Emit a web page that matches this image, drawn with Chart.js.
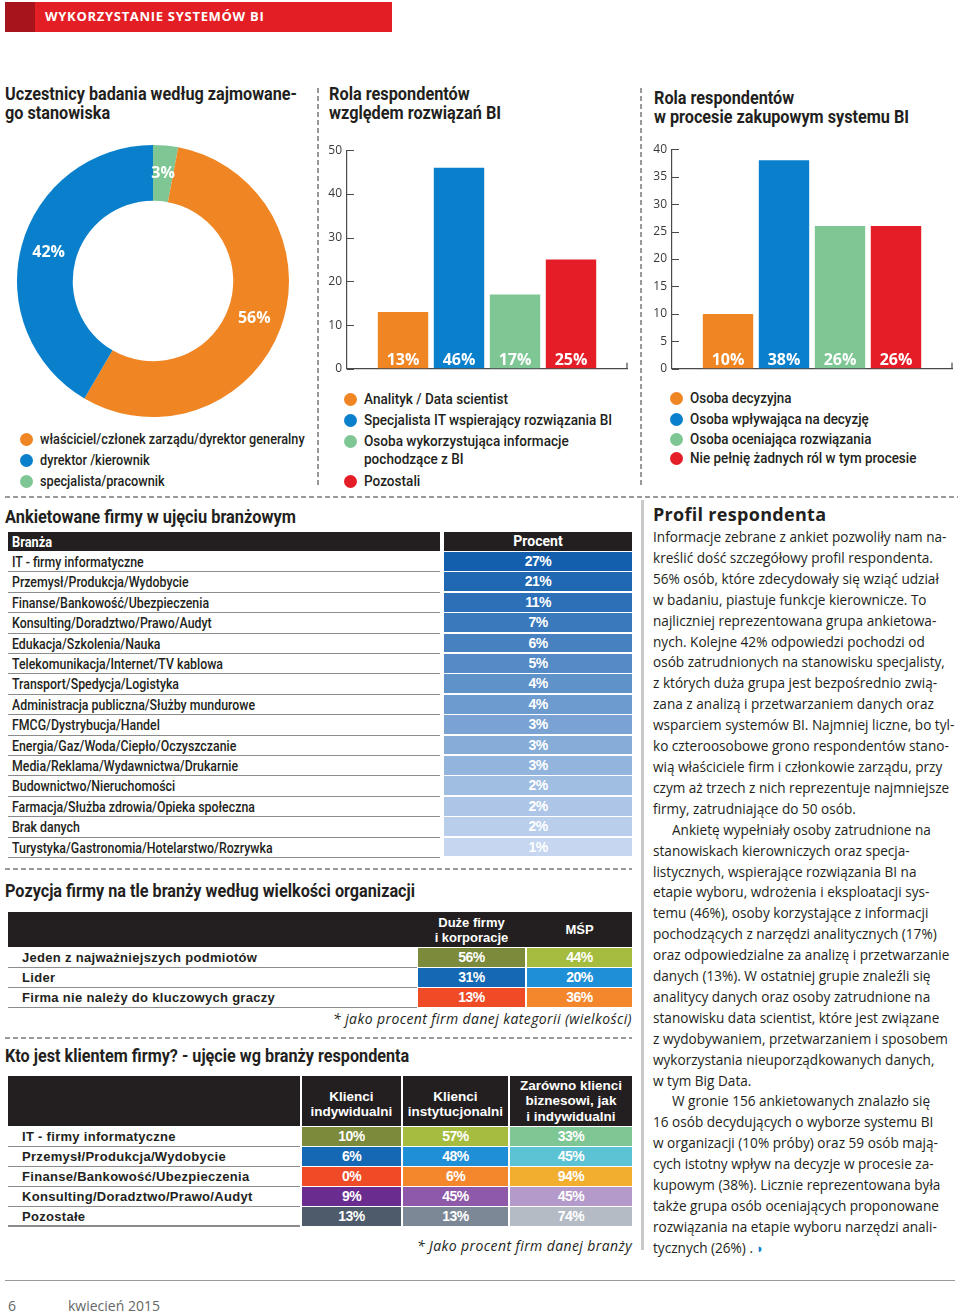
<!DOCTYPE html>
<html lang="pl">
<head>
<meta charset="utf-8">
<title>Wykorzystanie systemów BI</title>
<script src="https://cdn.jsdelivr.net/npm/chart.js@4/dist/chart.umd.min.js"></script>
<style>
  * { box-sizing: border-box; margin: 0; padding: 0; }
  body { width: 960px; height: 1313px; position: relative; overflow: hidden; background: #fff;
         font-family: 'Open Sans', sans-serif; color: #231f20; }
  .abs { position: absolute; }
  .cn { font-family: Roboto, sans-serif; display: inline-block; transform-origin: 0 50%; white-space: nowrap; }
  .h2 { font-weight: bold; font-size: 18px; line-height: 19px; white-space: pre; }
  .dash-h { position: absolute; height: 1.5px; background: repeating-linear-gradient(90deg, #9a9a9a 0 5px, transparent 5px 8px); }
  .dash-v { position: absolute; width: 1.5px; background: repeating-linear-gradient(180deg, #9a9a9a 0 5px, transparent 5px 8px); }
  .legend .cn { position: absolute; white-space: pre; font-size: 14px; line-height: 18.5px; font-weight: 500; }
  .dot { position: absolute; width: 13px; height: 13px; border-radius: 50%; }
  .body-text div { height: 20.91px; line-height: 20.91px; white-space: nowrap; font-size: 13.6px; }
  .arial { font-family: 'Liberation Sans', Arial, sans-serif; }
  canvas { position: absolute; }
</style>
</head>
<body>
<div class="abs" style="left:5px;top:2px;width:387px;height:30px;background:#e31e24;"></div>
<div class="abs" style="left:5px;top:2px;width:30px;height:30px;background:#a8141b;"></div>
<div class="abs" style="left:45px;top:7px;color:#fff;font-weight:bold;font-size:13px;letter-spacing:0.7px;">WYKORZYSTANIE SYSTEMÓW BI</div>

<div class="abs cn h2" data-w="292" style="left:5px;top:84px;">Uczestnicy badania według zajmowane-
go stanowiska</div>
<div class="abs cn h2" data-w="172" style="left:329px;top:84px;">Rola respondentów
względem rozwiązań BI</div>
<div class="abs cn h2" data-w="255" style="left:654px;top:88px;">Rola respondentów
w procesie zakupowym systemu BI</div>

<div class="dash-v" style="left:317px;top:88px;height:400px;"></div>
<div class="dash-v" style="left:640px;top:88px;height:400px;"></div>
<div class="dash-h" style="left:5px;top:496px;width:953px;"></div>
<div class="dash-h" style="left:5px;top:868px;width:627px;"></div>
<div class="dash-h" style="left:5px;top:1037px;width:627px;"></div>
<div class="abs" style="left:641px;top:500px;width:3px;height:750px;background:#c9c9c9;"></div>
<div class="abs" style="left:5px;top:1280px;width:950px;height:1px;background:#9a9a9a;"></div>
<div class="abs" style="left:8px;top:1296px;font-size:14px;color:#666;">6</div>
<div class="abs" style="left:68px;top:1296px;font-size:14px;color:#666;">kwiecień 2015</div>

<canvas id="donut" width="272" height="272" style="left:17px;top:145px;"></canvas>
<canvas id="barBi" width="312" height="243" style="left:320px;top:138px;"></canvas>
<canvas id="barZakup" width="312" height="244" style="left:645px;top:137px;"></canvas>

<div id="legend1" class="legend"></div>
<div id="legend2" class="legend"></div>
<div id="legend3" class="legend"></div>

<div class="abs cn h2" data-w="291" style="left:5px;top:507px;">Ankietowane firmy w ujęciu branżowym</div>
<div class="abs cn h2" data-w="410" style="left:5px;top:881px;">Pozycja firmy na tle branży według wielkości organizacji</div>
<div class="abs cn h2" data-w="404" style="left:5px;top:1046px;">Kto jest klientem firmy? - ujęcie wg branży respondenta</div>
<div class="abs" style="right:328px;top:1009px;font-style:italic;font-size:14px;letter-spacing:0.4px;white-space:nowrap;">* jako procent firm danej kategorii (wielkości)</div>
<div class="abs" style="right:328px;top:1236px;font-style:italic;font-size:14px;letter-spacing:0.4px;white-space:nowrap;">* Jako procent firm danej branży</div>

<div id="tables"></div>

<div class="abs" style="left:653px;top:502px;font-weight:bold;font-size:18px;letter-spacing:0.3px;">Profil respondenta</div>
<div id="profil" class="abs body-text" style="left:653px;top:527px;"></div>

<script>
const ORANGE = '#f08524';
const BLUE = '#0a80cc';
const GREEN = '#7ec794';
const RED = '#e41d27';

// Uczestnicy badania według zajmowanego stanowiska
const stanowiskoValues = [3, 56, 42];
const stanowiskoColors = [GREEN, ORANGE, BLUE];
const stanowiskoLegend = ['właściciel/członek zarządu/dyrektor generalny', 'dyrektor /kierownik', 'specjalista/pracownik'];
const stanowiskoLegendColors = [ORANGE, BLUE, GREEN];

// Rola respondentów względem rozwiązań BI
const rolaBiLabels = ['Analityk / Data scientist', 'Specjalista IT wspierający rozwiązania BI', 'Osoba wykorzystująca informacje\npochodzące z BI', 'Pozostali'];
const rolaBiValues = [13, 46, 17, 25];
const rolaBiTicks = [0, 10, 20, 30, 40, 50];

// Rola respondentów w procesie zakupowym
const rolaZakupLabels = ['Osoba decyzyjna', 'Osoba wpływająca na decyzję', 'Osoba oceniająca rozwiązania', 'Nie pełnię żadnych ról w tym procesie'];
const rolaZakupValues = [10, 38, 26, 26];
const rolaZakupTicks = [0, 5, 10, 15, 20, 25, 30, 35, 40];

const barColors = [ORANGE, BLUE, GREEN, RED];

// Ankietowane firmy w ujęciu branżowym
const branze = [
  'IT - firmy informatyczne', 'Przemysł/Produkcja/Wydobycie', 'Finanse/Bankowość/Ubezpieczenia',
  'Konsulting/Doradztwo/Prawo/Audyt', 'Edukacja/Szkolenia/Nauka', 'Telekomunikacja/Internet/TV kablowa',
  'Transport/Spedycja/Logistyka', 'Administracja publiczna/Służby mundurowe', 'FMCG/Dystrybucja/Handel',
  'Energia/Gaz/Woda/Ciepło/Oczyszczanie', 'Media/Reklama/Wydawnictwa/Drukarnie', 'Budownictwo/Nieruchomości',
  'Farmacja/Służba zdrowia/Opieka społeczna', 'Brak danych', 'Turystyka/Gastronomia/Hotelarstwo/Rozrywka',
];
const branzeProcent = [27, 21, 11, 7, 6, 5, 4, 4, 3, 3, 3, 2, 2, 2, 1];

// Pozycja firmy na tle branży według wielkości organizacji
const pozycjaRows = ['Jeden z najważniejszych podmiotów', 'Lider', 'Firma nie należy do kluczowych graczy'];
const pozycjaCols = ['Duże firmy\ni korporacje', 'MŚP'];
const pozycjaDuze = [56, 31, 13];
const pozycjaMsp = [44, 20, 36];

// Kto jest klientem firmy?
const klientRows = ['IT - firmy informatyczne', 'Przemysł/Produkcja/Wydobycie', 'Finanse/Bankowość/Ubezpieczenia', 'Konsulting/Doradztwo/Prawo/Audyt', 'Pozostałe'];
const klientCols = ['Klienci\nindywidualni', 'Klienci\ninstytucjonalni', 'Zarówno klienci\nbiznesowi, jak\ni indywidualni'];
const klientIndyw = [10, 6, 0, 9, 13];
const klientInst = [57, 48, 6, 45, 13];
const klientOba = [33, 45, 94, 45, 74];

const profilLines = [
  'Informacje zebrane z ankiet pozwoliły nam na-',
  'kreślić dość szczegółowy profil respondenta.',
  '56% osób, które zdecydowały się wziąć udział',
  'w badaniu, piastuje funkcje kierownicze. To',
  'najliczniej reprezentowana grupa ankietowa-',
  'nych. Kolejne 42% odpowiedzi pochodzi od',
  'osób zatrudnionych na stanowisku specjalisty,',
  'z których duża grupa jest bezpośrednio zwią-',
  'zana z analizą i przetwarzaniem danych oraz',
  'wsparciem systemów BI. Najmniej liczne, bo tyl-',
  'ko czteroosobowe grono respondentów stano-',
  'wią właściciele firm i członkowie zarządu, przy',
  'czym aż trzech z nich reprezentuje najmniejsze',
  'firmy, zatrudniające do 50 osób.',
  '\tAnkietę wypełniały osoby zatrudnione na',
  'stanowiskach kierowniczych oraz specja-',
  'listycznych, wspierające rozwiązania BI na',
  'etapie wyboru, wdrożenia i eksploatacji sys-',
  'temu (46%), osoby korzystające z informacji',
  'pochodzących z narzędzi analitycznych (17%)',
  'oraz odpowiedzialne za analizę i przetwarzanie',
  'danych (13%). W ostatniej grupie znaleźli się',
  'analitycy danych oraz osoby zatrudnione na',
  'stanowisku data scientist, które jest związane',
  'z wydobywaniem, przetwarzaniem i sposobem',
  'wykorzystania nieuporządkowanych danych,',
  'w tym Big Data.',
  '\tW gronie 156 ankietowanych znalazło się',
  '16 osób decydujących o wyborze systemu BI',
  'w organizacji (10% próby) oraz 59 osób mają-',
  'cych istotny wpływ na decyzje w procesie za-',
  'kupowym (38%). Licznie reprezentowana była',
  'także grupa osób oceniających proponowane',
  'rozwiązania na etapie wyboru narzędzi anali-',
  'tycznych (26%) .',
];

function box(parent, css, text, cls) {
  const el = document.createElement('div');
  el.style.cssText = 'position:absolute;' + css;
  if (text !== undefined) el.textContent = text;
  if (cls) el.className = cls;
  parent.appendChild(el);
  return el;
}

function span(parent, text, css) {
  const el = document.createElement('span');
  el.className = 'cn';
  el.textContent = text;
  if (css) el.style.cssText = css;
  parent.appendChild(el);
  return el;
}

// squeeze a group of texts so that the widest one gets the given width
function squeeze(els, target) {
  const widest = Math.max(...els.map((el) => el.scrollWidth));
  const k = target / widest;
  els.forEach((el) => { el.style.transform = `scaleX(${k})`; });
}

// legends
function legend(id, labels, colors, x, tops, target) {
  const root = document.getElementById(id);
  const texts = [];
  labels.forEach((label, i) => {
    box(root, `left:${x}px;top:${tops[i] - 6.5}px;background:${colors[i]};`, undefined, 'dot');
    const t = box(root, `left:${x + 20}px;top:${tops[i] - 9.5}px;`, label, 'cn');
    texts.push(t);
  });
  squeeze(texts, target);
}
legend('legend1', stanowiskoLegend, stanowiskoLegendColors, 20, [439, 460, 481], 265);
legend('legend2', rolaBiLabels, barColors, 344, [399, 420, 441, 481], 248);
legend('legend3', rolaZakupLabels, barColors, 670, [398, 419, 439, 458], 226);

document.querySelectorAll('.h2[data-w]').forEach((el) => squeeze([el], +el.dataset.w));

// profile text
const profil = document.getElementById('profil');
profilLines.forEach((line) => {
  const indent = line.startsWith('\t');
  box(profil, `position:relative;padding-left:${indent ? 19 : 0}px;`, line.replace('\t', ''));
});
const mark = document.createElement('span');
mark.textContent = ' ◗';
mark.style.cssText = 'color:#0a80cc;font-size:13px;';
profil.lastChild.appendChild(mark);

// tables
const tables = document.getElementById('tables');
const hdr = 'background:#231f20;color:#fff;';

// table 1
const branzaHead = box(tables, `left:8px;top:532px;width:432px;height:19px;${hdr}padding-left:4px;line-height:19px;`);
const branzaHeadText = span(branzaHead, 'Branża', 'font-weight:bold;font-size:14.5px;');
box(tables, `left:444px;top:532px;width:188px;height:19px;${hdr}text-align:center;line-height:19px;font-weight:bold;font-size:14px;font-family:Roboto;`, 'Procent');
const light = [0xc6, 0xd6, 0xf0];
const dark = [0x14, 0x5f, 0xad];
function shade(i, n) {
  const t = i / (n - 1);
  const c = dark.map((d, k) => Math.round(d + (light[k] - d) * t));
  return `rgb(${c[0]},${c[1]},${c[2]})`;
}
const R1 = 20.4;
const branzaTexts = [];
branze.forEach((name, i) => {
  const top = 552 + i * R1;
  const cell = box(tables, `left:8px;top:${top}px;width:432px;height:${R1}px;border-bottom:1.5px solid #8c8c8c;padding-left:4px;line-height:${R1 - 1}px;`);
  branzaTexts.push(span(cell, name, 'font-size:14px;font-weight:500;'));
  box(tables, `left:444px;top:${top}px;width:188px;height:${R1 - 1.5}px;background:${shade(i, branze.length)};color:#fff;text-align:center;line-height:${R1 - 1}px;font-weight:bold;font-size:14px;letter-spacing:-0.5px;`, branzeProcent[i] + '%', 'arial');
});
squeeze(branzaTexts, 261);
branzaHeadText.style.transform = branzaTexts[0].style.transform;

// table 2
box(tables, `left:8px;top:912px;width:624px;height:35px;${hdr}`);
const t2cols = [[418, 107], [527, 105]];
pozycjaCols.forEach((c, j) => {
  box(tables, `left:${t2cols[j][0]}px;top:912px;width:${t2cols[j][1]}px;height:35px;color:#fff;font-weight:bold;font-size:13px;line-height:15px;text-align:center;white-space:pre-line;display:flex;align-items:center;justify-content:center;`, c, 'arial');
});
const t2colors = [['#7c8a3b', '#a5bc3f'], ['#1569b4', '#1f90d7'], ['#ee4b26', '#f4862b']];
const t2data = [pozycjaDuze, pozycjaMsp];
pozycjaRows.forEach((name, i) => {
  const top = 948 + i * 20;
  box(tables, `left:8px;top:${top}px;width:409px;height:20px;border-bottom:1.5px solid #8c8c8c;padding-left:14px;line-height:19px;font-weight:bold;font-size:13px;letter-spacing:0.3px;white-space:nowrap;`, name, 'arial');
  t2data.forEach((col, j) => {
    box(tables, `left:${t2cols[j][0]}px;top:${top}px;width:${t2cols[j][1]}px;height:18.5px;background:${t2colors[i][j]};color:#fff;text-align:center;line-height:19px;font-weight:bold;font-size:14px;letter-spacing:-0.5px;`, col[i] + '%', 'arial');
  });
});

// table 3
box(tables, `left:8px;top:1076px;width:292px;height:50px;${hdr}`);
const t3cols = [[302, 99], [403, 105], [510, 122]];
klientCols.forEach((c, j) => {
  box(tables, `left:${t3cols[j][0]}px;top:1076px;width:${t3cols[j][1]}px;height:50px;${hdr}font-weight:bold;font-size:13.5px;line-height:15.5px;text-align:center;white-space:pre-line;display:flex;align-items:center;justify-content:center;padding-top:${j === 2 ? 0 : 6}px;`, c, 'arial');
});
const t3colors = [
  ['#7c8a3b', '#a5bc3f', '#7ec794'],
  ['#1569b4', '#1f90d7', '#5bc3d3'],
  ['#ee4b26', '#f4862b', '#f1ae2f'],
  ['#6b2c90', '#8d59a8', '#b49acb'],
  ['#4e5b6b', '#7d8896', '#b4bbc4'],
];
const t3data = [klientIndyw, klientInst, klientOba];
klientRows.forEach((name, i) => {
  const top = 1127 + i * 20;
  const last = i === klientRows.length - 1;
  box(tables, `left:8px;top:${top}px;width:292px;height:20px;border-bottom:${last ? 2.5 : 1.5}px solid #8c8c8c;padding-left:14px;line-height:19px;font-weight:bold;font-size:13px;letter-spacing:0.3px;white-space:nowrap;`, name, 'arial');
  t3data.forEach((col, j) => {
    box(tables, `left:${t3cols[j][0]}px;top:${top}px;width:${t3cols[j][1]}px;height:18.5px;background:${t3colors[i][j]};color:#fff;text-align:center;line-height:19px;font-weight:bold;font-size:14px;letter-spacing:-0.5px;`, col[i] + '%', 'arial');
  });
});

// charts
Chart.defaults.font.family = "'Open Sans', sans-serif";

const donutLabels = {
  id: 'donutLabels',
  afterDatasetsDraw(chart) {
    const { ctx } = chart;
    const values = chart.data.datasets[0].data;
    ctx.save();
    ctx.fillStyle = '#fff';
    ctx.font = "bold 16px 'Open Sans'";
    ctx.textAlign = 'center';
    ctx.textBaseline = 'middle';
    chart.getDatasetMeta(0).data.forEach((arc, i) => {
      const p = arc.tooltipPosition();
      ctx.fillText(values[i] + '%', p.x, p.y);
    });
    ctx.restore();
  },
};

new Chart(document.getElementById('donut'), {
  type: 'doughnut',
  data: {
    datasets: [{
      data: stanowiskoValues,
      backgroundColor: stanowiskoColors,
      borderWidth: 0,
    }],
  },
  options: {
    responsive: false,
    animation: false,
    cutout: '59%',
    plugins: { legend: { display: false }, tooltip: { enabled: false } },
  },
  plugins: [donutLabels],
});

const innerTicks = {
  id: 'innerTicks',
  afterDraw(chart) {
    const { ctx, scales: { x, y } } = chart;
    ctx.save();
    ctx.strokeStyle = '#4a4a4a';
    ctx.lineWidth = 1.2;
    ctx.beginPath();
    y.ticks.forEach((t) => {
      const py = Math.round(y.getPixelForValue(t.value)) + 0.5;
      ctx.moveTo(x.left, py);
      ctx.lineTo(x.left + 7, py);
    });
    ctx.moveTo(x.right, y.bottom);
    ctx.lineTo(x.right, y.bottom - 6);
    ctx.stroke();
    ctx.restore();
  },
};

const barLabels = {
  id: 'barLabels',
  afterDatasetsDraw(chart) {
    const { ctx } = chart;
    const bottom = chart.scales.y.bottom;
    ctx.save();
    ctx.fillStyle = '#fff';
    ctx.font = "bold 16px 'Open Sans'";
    ctx.textAlign = 'center';
    ctx.textBaseline = 'alphabetic';
    chart.getDatasetMeta(0).data.forEach((bar, i) => {
      ctx.fillText(chart.data.datasets[0].data[i].y + '%', bar.x, bottom - 4);
    });
    ctx.restore();
  },
};

function barChart(id, values, ticks) {
  const step = ticks[1] - ticks[0];
  return new Chart(document.getElementById(id), {
    type: 'bar',
    data: {
      datasets: [{
        data: values.map((v, i) => ({ x: i + 1, y: v })),
        backgroundColor: barColors,
        categoryPercentage: 1,
        barPercentage: 0.9,
      }],
    },
    options: {
      responsive: false,
      animation: false,
      layout: { padding: { top: 9, right: 5, bottom: 9, left: 0 } },
      plugins: { legend: { display: false }, tooltip: { enabled: false } },
      scales: {
        x: {
          type: 'linear', min: 0, max: 5, offset: false,
          ticks: { display: false, stepSize: 1 },
          grid: { display: true, drawOnChartArea: false, drawTicks: false },
          border: { color: '#4a4a4a', width: 1.2 },
          afterFit: (s) => { s.height = 0; },
        },
        y: {
          min: ticks[0], max: ticks[ticks.length - 1],
          ticks: { stepSize: step, padding: 5, color: '#3a3a3a', font: { size: 12 } },
          grid: { display: true, drawOnChartArea: false, drawTicks: false },
          border: { color: '#4a4a4a', width: 1.2 },
          afterFit: (s) => { s.width = 27; },
        },
      },
    },
    plugins: [innerTicks, barLabels],
  });
}

barChart('barBi', rolaBiValues, rolaBiTicks);
barChart('barZakup', rolaZakupValues, rolaZakupTicks);
</script>
</body>
</html>
